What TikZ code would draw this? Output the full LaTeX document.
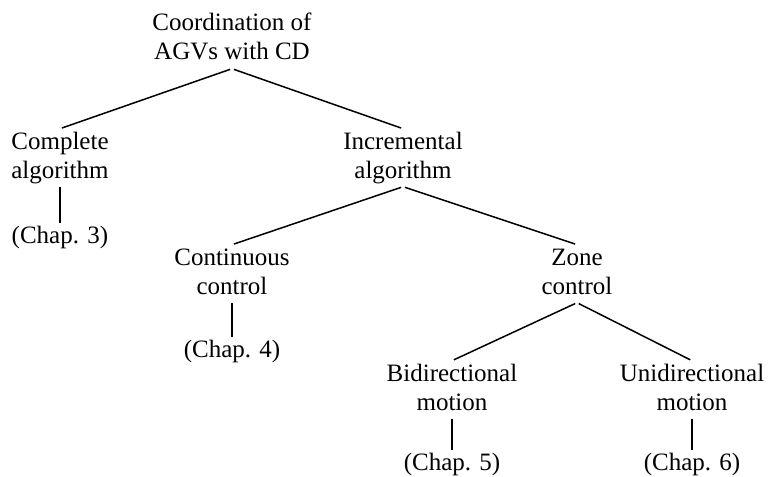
\documentclass[tikz,border=0pt]{standalone}
\usepackage{fontspec}
\setmainfont{Liberation Serif}
\begin{document}
\begin{tikzpicture}[x=1pt,y=-1pt,
  lbl/.style={align=center,inner sep=0pt,outer sep=0pt,font=\fontsize{25}{29}\selectfont},
  branch/.style={line width=1.5pt,shorten <=2pt,shorten >=2pt},
  stem/.style={line width=1.5pt}]
\useasboundingbox (0,0) rectangle (770,476);
\node[lbl] (root) at (232,39.7) {\strut Coordination of\\\strut AGVs with CD};
\node[lbl] (comp) at (60,157.7) {\strut Complete\\\strut algorithm};
\node[lbl] (incr) at (403,157.7) {\strut Incremental\\\strut algorithm};
\node[lbl] (ch3) at (60,237.2) {\strut (Chap. 3)};
\node[lbl] (cont) at (232,273.7) {\strut Continuous\\\strut control};
\node[lbl] (zone) at (577,273.7) {\strut Zone\\\strut control};
\node[lbl] (ch4) at (232,351.2) {\strut (Chap. 4)};
\node[lbl] (bidi) at (452,389.7) {\strut Bidirectional\\\strut motion};
\node[lbl] (uni) at (692,389.7) {\strut Unidirectional\\\strut motion};
\node[lbl] (ch5) at (452,464.2) {\strut (Chap. 5)};
\node[lbl] (ch6) at (692,464.2) {\strut (Chap. 6)};
\draw[branch] (root.south) -- (comp.north);
\draw[branch] (root.south) -- (incr.north);
\draw[stem] (comp.south) -- (ch3.north);
\draw[branch] (incr.south) -- (cont.north);
\draw[branch] (incr.south) -- (zone.north);
\draw[stem] (cont.south) -- (ch4.north);
\draw[branch] (zone.south) -- (bidi.north);
\draw[branch] (zone.south) -- (uni.north);
\draw[stem] (bidi.south) -- (ch5.north);
\draw[stem] (uni.south) -- (ch6.north);
\end{tikzpicture}
\end{document}
